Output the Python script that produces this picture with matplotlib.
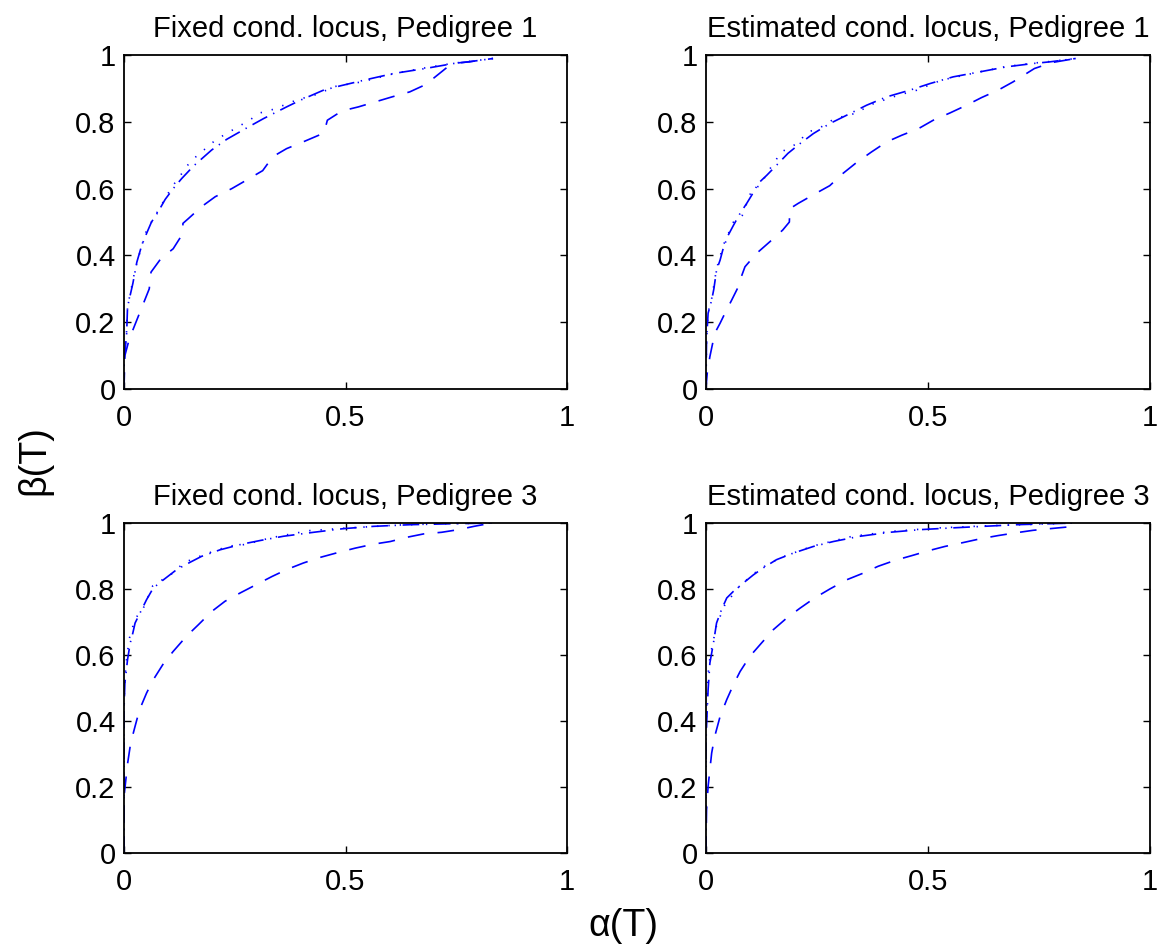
import matplotlib
matplotlib.use('Agg')
import matplotlib.pyplot as plt

plt.rcParams['font.family'] = ['Liberation Sans', 'DejaVu Sans']

titles = ['Fixed cond. locus, Pedigree 1', 'Estimated cond. locus, Pedigree 1',
          'Fixed cond. locus, Pedigree 3', 'Estimated cond. locus, Pedigree 3']

# Fixed, Pedigree 1
fp1_dash_x = [0, 0.002, 0.012, 0.027, 0.042, 0.057, 0.061, 0.083, 0.111, 0.133, 0.133, 0.145,
              0.175, 0.206, 0.243, 0.277, 0.313, 0.336, 0.367, 0.404, 0.443, 0.452, 0.459,
              0.492, 0.529, 0.567, 0.605, 0.645, 0.681, 0.74, 0.778, 0.833]
fp1_dash_y = [0, 0.10, 0.15, 0.20, 0.25, 0.30, 0.35, 0.39, 0.42, 0.466, 0.496, 0.51,
              0.546, 0.576, 0.60, 0.626, 0.654, 0.696, 0.72, 0.74, 0.762, 0.77, 0.805,
              0.833, 0.845, 0.86, 0.875, 0.89, 0.912, 0.975, 0.98, 0.99]
fp1_dd_x = [0, 0, 0.006, 0.008, 0.02, 0.029, 0.04, 0.051, 0.062, 0.075, 0.093, 0.111, 0.13,
            0.157, 0.198, 0.232, 0.281, 0.315, 0.367, 0.398, 0.45, 0.488, 0.548, 0.608,
            0.68, 0.744, 0.778, 0.833]
fp1_dd_y = [0, 0.08, 0.167, 0.246, 0.316, 0.38, 0.43, 0.466, 0.50, 0.526, 0.568, 0.60, 0.63,
            0.668, 0.716, 0.748, 0.785, 0.81, 0.845, 0.865, 0.895, 0.908, 0.927, 0.945,
            0.96, 0.975, 0.98, 0.99]
fp1_dot_x = [0, 0, 0.006, 0.008, 0.025, 0.048, 0.062, 0.108, 0.125, 0.142, 0.160, 0.183,
             0.206, 0.231, 0.283, 0.307, 0.338, 0.394, 0.426, 0.479, 0.537, 0.61, 0.68,
             0.744, 0.778, 0.833]
fp1_dot_y = [0, 0.09, 0.175, 0.246, 0.357, 0.466, 0.50, 0.605, 0.635, 0.668, 0.693, 0.719,
             0.745, 0.765, 0.805, 0.827, 0.838, 0.868, 0.878, 0.907, 0.92, 0.945, 0.962,
             0.976, 0.981, 0.99]

# Estimated, Pedigree 1
ep1_dash_x = [0, 0.003, 0.009, 0.02, 0.032, 0.043, 0.058, 0.073, 0.077, 0.088, 0.114, 0.144,
              0.173, 0.188, 0.189, 0.208, 0.245, 0.279, 0.309, 0.339, 0.373, 0.407, 0.441,
              0.479, 0.512, 0.55, 0.587, 0.621, 0.658, 0.692, 0.74, 0.78, 0.833]
ep1_dash_y = [0, 0.047, 0.097, 0.167, 0.197, 0.227, 0.266, 0.306, 0.326, 0.366, 0.406, 0.441,
              0.476, 0.50, 0.54, 0.556, 0.584, 0.609, 0.646, 0.678, 0.71, 0.74, 0.76,
              0.78, 0.805, 0.827, 0.85, 0.873, 0.895, 0.92, 0.96, 0.978, 0.99]
ep1_dd_x = [0, 0.0015, 0.005, 0.013, 0.018, 0.024, 0.032, 0.039, 0.05, 0.062, 0.077, 0.092,
            0.103, 0.118, 0.137, 0.159, 0.185, 0.212, 0.242, 0.279, 0.317, 0.362, 0.407,
            0.459, 0.505, 0.557, 0.617, 0.677, 0.737, 0.775, 0.833]
ep1_dd_y = [0, 0.147, 0.227, 0.266, 0.30, 0.356, 0.386, 0.421, 0.46, 0.49, 0.526, 0.556,
            0.58, 0.616, 0.64, 0.67, 0.706, 0.735, 0.765, 0.795, 0.82, 0.85, 0.875,
            0.895, 0.915, 0.935, 0.95, 0.965, 0.975, 0.98, 0.99]
ep1_dot_x = [0, 0.0015, 0.005, 0.013, 0.024, 0.039, 0.062, 0.082, 0.103, 0.122, 0.142, 0.17,
             0.205, 0.23, 0.254, 0.29, 0.335, 0.378, 0.433, 0.475, 0.53, 0.617, 0.677,
             0.737, 0.775, 0.833]
ep1_dot_y = [0, 0.15, 0.23, 0.27, 0.36, 0.43, 0.5, 0.52, 0.595, 0.61, 0.655, 0.71,
             0.735, 0.77, 0.78, 0.81, 0.825, 0.855, 0.88, 0.895, 0.925, 0.95, 0.966,
             0.976, 0.981, 0.99]

# Fixed, Pedigree 3
fp3_dash_x = [0, 0, 0.008, 0.015, 0.025, 0.035, 0.051, 0.066, 0.089, 0.111, 0.141, 0.168,
              0.198, 0.228, 0.262, 0.298, 0.334, 0.367, 0.405, 0.443, 0.484, 0.522, 0.563,
              0.601, 0.639, 0.676, 0.717, 0.755, 0.79, 0.83]
fp3_dash_y = [0, 0.17, 0.27, 0.333, 0.384, 0.434, 0.485, 0.525, 0.574, 0.611, 0.657, 0.692,
              0.732, 0.763, 0.788, 0.813, 0.838, 0.859, 0.879, 0.896, 0.911, 0.924, 0.936,
              0.944, 0.957, 0.967, 0.972, 0.98, 0.99, 1.0]
fp3_dd_x = [0, 0, 0.002, 0.008, 0.014, 0.02, 0.025, 0.036, 0.051, 0.066, 0.089, 0.119,
            0.149, 0.175, 0.217, 0.266, 0.307, 0.36, 0.428, 0.495, 0.563, 0.646, 0.744, 0.83]
fp3_dd_y = [0, 0.434, 0.515, 0.586, 0.636, 0.667, 0.697, 0.727, 0.768, 0.803, 0.828, 0.859,
            0.881, 0.899, 0.919, 0.936, 0.947, 0.96, 0.972, 0.983, 0.99, 0.995, 0.998, 1.0]
fp3_dot_x = [0, 0, 0.002, 0.006, 0.012, 0.025, 0.043, 0.065, 0.11, 0.135, 0.182, 0.236,
             0.274, 0.330, 0.418, 0.505, 0.620, 0.720, 0.83]
fp3_dot_y = [0, 0.45, 0.53, 0.59, 0.65, 0.71, 0.74, 0.81, 0.848, 0.88, 0.905, 0.93,
             0.935, 0.955, 0.977, 0.985, 0.994, 0.998, 1.0]

# Estimated, Pedigree 3
ep3_dash_x = [0, 0.0015, 0.005, 0.013, 0.02, 0.032, 0.047, 0.062, 0.077, 0.099, 0.125, 0.152,
              0.182, 0.212, 0.245, 0.279, 0.317, 0.354, 0.388, 0.426, 0.463, 0.501, 0.538,
              0.58, 0.617, 0.658, 0.696, 0.737, 0.775, 0.83]
ep3_dash_y = [0, 0.131, 0.202, 0.303, 0.354, 0.414, 0.465, 0.51, 0.55, 0.596, 0.636, 0.677,
              0.712, 0.742, 0.773, 0.80, 0.828, 0.848, 0.869, 0.887, 0.901, 0.916, 0.929,
              0.941, 0.952, 0.962, 0.97, 0.978, 0.983, 0.99]
ep3_dd_x = [0, 0, 0.003, 0.005, 0.009, 0.017, 0.024, 0.035, 0.047, 0.062, 0.084, 0.107,
            0.129, 0.159, 0.197, 0.242, 0.287, 0.347, 0.414, 0.482, 0.55, 0.625, 0.7,
            0.775, 0.83]
ep3_dd_y = [0, 0.333, 0.434, 0.495, 0.576, 0.636, 0.697, 0.737, 0.773, 0.793, 0.818, 0.843,
            0.864, 0.889, 0.909, 0.929, 0.944, 0.96, 0.972, 0.98, 0.985, 0.99, 0.995,
            0.998, 1.0]
ep3_dot_x = [0, 0, 0.002, 0.006, 0.01, 0.024, 0.042, 0.076, 0.12, 0.168, 0.24, 0.33,
             0.42, 0.52, 0.64, 0.76, 0.83]
ep3_dot_y = [0, 0.35, 0.45, 0.56, 0.6, 0.69, 0.75, 0.81, 0.86, 0.895, 0.93, 0.96,
             0.975, 0.985, 0.992, 0.997, 1.0]

panels = [
    (fp1_dot_x, fp1_dot_y, fp1_dd_x, fp1_dd_y, fp1_dash_x, fp1_dash_y),
    (ep1_dot_x, ep1_dot_y, ep1_dd_x, ep1_dd_y, ep1_dash_x, ep1_dash_y),
    (fp3_dot_x, fp3_dot_y, fp3_dd_x, fp3_dd_y, fp3_dash_x, fp3_dash_y),
    (ep3_dot_x, ep3_dot_y, ep3_dd_x, ep3_dd_y, ep3_dash_x, ep3_dash_y),
]

fig = plt.figure(figsize=(11.61, 9.51), dpi=100)
rects = [
    [0.1068, 0.591, 0.3816, 0.351],
    [0.608, 0.591, 0.3824, 0.351],
    [0.1068, 0.103, 0.3816, 0.347],
    [0.608, 0.103, 0.3824, 0.347],
]

for rect, title, data in zip(rects, titles, panels):
    ax = fig.add_axes(rect)
    dx, dy, ddx, ddy, sx, sy = data
    ax.plot(dx, dy, color='blue', lw=1.2, dashes=(0.8, 6))
    ax.plot(ddx, ddy, color='blue', lw=1.2, dashes=(10, 4, 0.8, 4))
    ax.plot(sx, sy, color='blue', lw=1.2, dashes=(10, 8))
    ax.set_xlim(0, 1)
    ax.set_ylim(0, 1)
    ax.set_xticks([0, 0.5, 1])
    ax.set_xticklabels(['0', '0.5', '1'])
    ax.set_yticks([0, 0.2, 0.4, 0.6, 0.8, 1])
    ax.set_yticklabels(['0', '0.2', '0.4', '0.6', '0.8', '1'])
    ax.tick_params(direction='in', length=5, width=1, top=True, right=True,
                   labelsize=21)
    ax.tick_params(axis='x', pad=11)
    ax.tick_params(axis='y', pad=6)
    for s in ax.spines.values():
        s.set_linewidth(1.3)
    ax.set_title(title, fontsize=21, pad=13)

fig.text(0.030, 0.516, '\u03b2(T)', rotation=90, fontsize=27, ha='center', va='center')
fig.text(0.537, 0.026, '\u03b1(T)', fontsize=27, ha='center', va='center')

fig.savefig('out.png', dpi=100)
